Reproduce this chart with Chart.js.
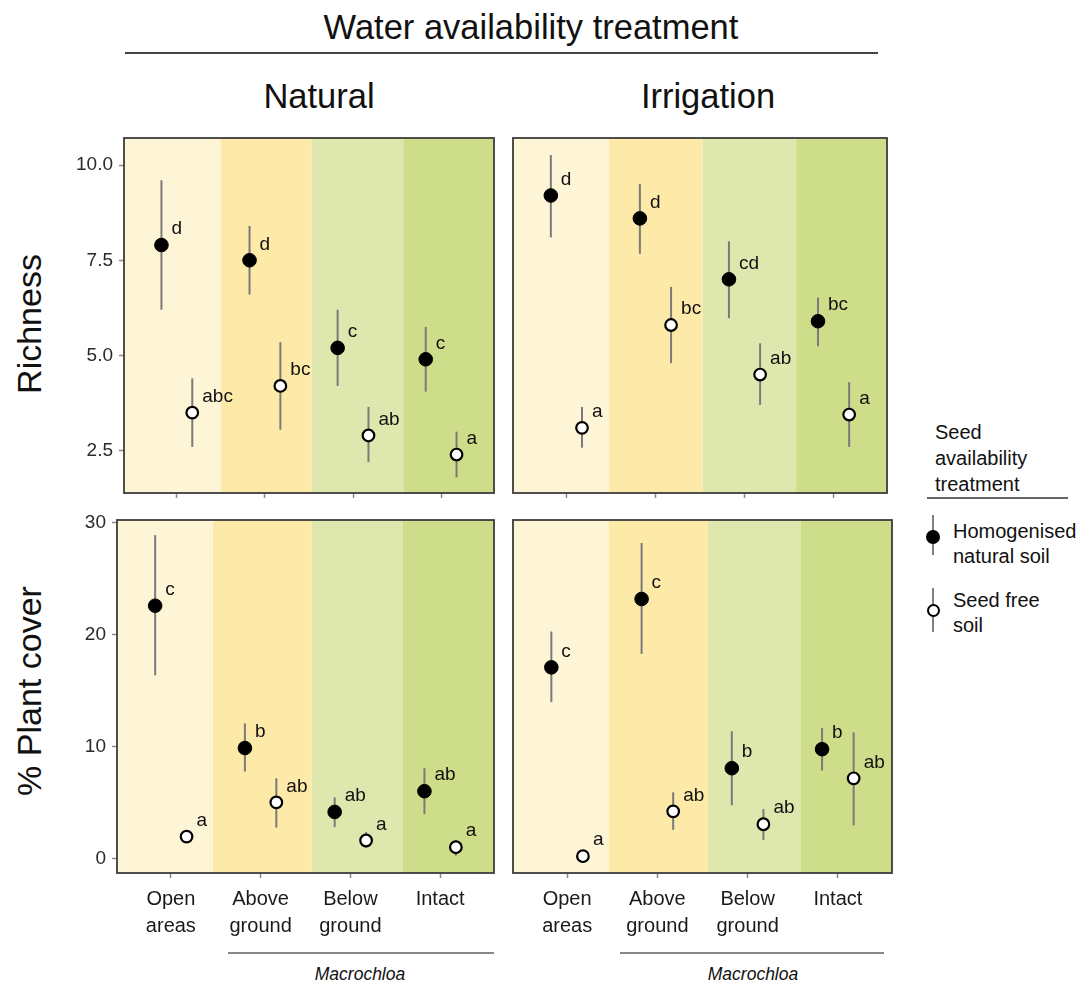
<!DOCTYPE html>
<html>
<head>
<meta charset="utf-8">
<script src="https://cdn.jsdelivr.net/npm/chart.js@4.4.0/dist/chart.umd.min.js"></script>
<style>
  body { margin:0; background:#fff; width:1091px; height:987px; position:relative; overflow:hidden;
         font-family:"Liberation Sans", Arial, sans-serif; color:#111; }
  .panel { position:absolute; }
  .t { position:absolute; white-space:nowrap; line-height:1; transform:translate(-50%,-50%); }
  .rule { position:absolute; }
  .dot { position:absolute; border-radius:50%; box-sizing:border-box; }
</style>
</head>
<body>

<!-- facet headers -->
<div class="t" style="left:531px;top:27px;font-size:34.5px;">Water availability treatment</div>
<div class="rule" style="left:125px;top:52px;width:753px;height:1.5px;background:#444;"></div>
<div class="t" style="left:319px;top:96px;font-size:34.5px;">Natural</div>
<div class="t" style="left:708px;top:96px;font-size:34.5px;">Irrigation</div>

<!-- y axis titles -->
<div class="t" style="left:29px;top:324px;font-size:34px;transform:translate(-50%,-50%) rotate(-90deg);">Richness</div>
<div class="t" style="left:29px;top:691px;font-size:34px;transform:translate(-50%,-50%) rotate(-90deg);">% Plant cover</div>

<!-- chart panels -->
<div class="panel" id="p-tl" style="left:60px;top:130px;width:442px;height:372px;"><canvas id="c-tl"></canvas></div>
<div class="panel" id="p-tr" style="left:505px;top:130px;width:390px;height:372px;"><canvas id="c-tr"></canvas></div>
<div class="panel" id="p-bl" style="left:50px;top:512px;width:452px;height:440px;"><canvas id="c-bl"></canvas></div>
<div class="panel" id="p-br" style="left:505px;top:512px;width:395px;height:440px;"><canvas id="c-br"></canvas></div>

<!-- Macrochloa bracket under the three tussock sites -->
<div class="rule" style="left:228px;top:952px;width:266px;height:2px;background:#888;"></div>
<div class="t" style="left:360px;top:975px;font-size:17.5px;font-style:italic;">Macrochloa</div>
<div class="rule" style="left:620px;top:952px;width:264px;height:2px;background:#888;"></div>
<div class="t" style="left:753px;top:975px;font-size:17.5px;font-style:italic;">Macrochloa</div>

<!-- legend -->
<div style="position:absolute;left:935px;top:419px;font-size:20px;line-height:26px;">Seed<br>availability<br>treatment</div>
<div class="rule" style="left:927px;top:497px;width:141px;height:1.5px;background:#666;"></div>
<div class="rule" style="left:932px;top:515px;width:2px;height:40px;background:#808080;"></div>
<div class="dot" style="left:926px;top:530px;width:14px;height:14px;background:#000;"></div>
<div style="position:absolute;left:953px;top:519px;font-size:20px;line-height:25px;">Homogenised<br>natural soil</div>
<div class="rule" style="left:932px;top:588px;width:2px;height:44px;background:#808080;"></div>
<div class="dot" style="left:927px;top:604px;width:13px;height:13px;background:#fff;border:2px solid #000;"></div>
<div style="position:absolute;left:953px;top:588px;font-size:20px;line-height:25px;">Seed free<br>soil</div>

<script>
// Sites along the x axis
const sites = [['Open', 'areas'], ['Above', 'ground'], ['Below', 'ground'], ['Intact']];

// Y tick values and their labels
const richTicks = [2.5, 5, 7.5, 10];
const richTickLabels = ['2.5', '5.0', '7.5', '10.0'];
const coverTicks = [0, 10, 20, 30];
const coverTickLabels = ['0', '10', '20', '30'];

// Richness, natural water
const richNatHom = [7.9, 7.5, 5.2, 4.9];
const richNatHomLo = [6.2, 6.6, 4.2, 4.05];
const richNatHomHi = [9.6, 8.4, 6.2, 5.75];
const richNatFree = [3.5, 4.2, 2.9, 2.4];
const richNatFreeLo = [2.6, 3.05, 2.2, 1.8];
const richNatFreeHi = [4.4, 5.35, 3.65, 3.0];
const richNatHomLet = ['d', 'd', 'c', 'c'];
const richNatFreeLet = ['abc', 'bc', 'ab', 'a'];

// Richness, irrigation
const richIrrHom = [9.2, 8.6, 7.0, 5.9];
const richIrrHomLo = [8.1, 7.67, 5.98, 5.24];
const richIrrHomHi = [10.26, 9.5, 8.0, 6.52];
const richIrrFree = [3.1, 5.8, 4.5, 3.45];
const richIrrFreeLo = [2.58, 4.8, 3.7, 2.6];
const richIrrFreeHi = [3.65, 6.8, 5.32, 4.3];
const richIrrHomLet = ['d', 'd', 'cd', 'bc'];
const richIrrFreeLet = ['a', 'bc', 'ab', 'a'];

// Plant cover (%), natural water
const covNatHom = [22.6, 9.9, 4.2, 6.05];
const covNatHomLo = [16.4, 7.8, 2.85, 4.0];
const covNatHomHi = [28.9, 12.1, 5.5, 8.1];
const covNatFree = [2.0, 5.05, 1.65, 1.05];
const covNatFreeLo = [1.5, 2.8, 1.0, 0.3];
const covNatFreeHi = [2.5, 7.2, 2.4, 1.7];
const covNatHomLet = ['c', 'b', 'ab', 'ab'];
const covNatFreeLet = ['a', 'ab', 'a', 'a'];

// Plant cover (%), irrigation
const covIrrHom = [17.1, 23.2, 8.1, 9.8];
const covIrrHomLo = [14.0, 18.3, 4.8, 7.9];
const covIrrHomHi = [20.3, 28.2, 11.4, 11.7];
const covIrrFree = [0.25, 4.25, 3.1, 7.2];
const covIrrFreeLo = [0.0, 2.6, 1.7, 3.0];
const covIrrFreeHi = [0.5, 5.95, 4.45, 11.3];
const covIrrHomLet = ['c', 'c', 'b', 'b'];
const covIrrFreeLet = ['a', 'ab', 'ab', 'ab'];

const FONT = '"Liberation Sans", Arial, sans-serif';
const BAND_COLORS = ['#FEF4D6', '#FDEAA8', '#DEE7AD', '#CEDD89'];
const DODGE = 0.175;

// Background bands, error bars, panel frame and significance letters
const panelPlugin = {
  id: 'panelDeco',
  beforeDatasetsDraw(chart) {
    const { ctx, chartArea: a, scales: { x, y } } = chart;
    const edges = [x.min, ...chart.options.plugins.panelDeco.edges, x.max];
    ctx.save();
    for (let i = 0; i < 4; i++) {
      const x0 = x.getPixelForValue(edges[i]);
      const x1 = x.getPixelForValue(edges[i + 1]);
      ctx.fillStyle = BAND_COLORS[i];
      ctx.fillRect(x0, a.top, x1 - x0, a.bottom - a.top);
    }
    ctx.strokeStyle = '#7a7a7a';
    ctx.lineWidth = 2;
    chart.data.datasets.forEach(ds => {
      ds.data.forEach((p, i) => {
        const px = x.getPixelForValue(p.x);
        ctx.beginPath();
        ctx.moveTo(px, y.getPixelForValue(ds.lo[i]));
        ctx.lineTo(px, y.getPixelForValue(ds.hi[i]));
        ctx.stroke();
      });
    });
    ctx.restore();
  },
  afterDatasetsDraw(chart) {
    const { ctx, chartArea: a, scales: { x, y } } = chart;
    ctx.save();
    ctx.strokeStyle = '#3c3c3c';
    ctx.lineWidth = 1.8;
    ctx.strokeRect(a.left, a.top, a.right - a.left, a.bottom - a.top);
    ctx.fillStyle = '#111';
    ctx.font = '19px ' + FONT;
    ctx.textAlign = 'left';
    ctx.textBaseline = 'middle';
    chart.data.datasets.forEach(ds => {
      ds.data.forEach((p, i) => {
        ctx.fillText(ds.letters[i], x.getPixelForValue(p.x) + 10, y.getPixelForValue(p.y) - 16);
      });
    });
    ctx.restore();
  }
};

function series(vals, offset) {
  return vals.map((v, i) => ({ x: i + 1 + offset, y: v }));
}

function makePanel(cfg) {
  const datasets = [
    {
      data: series(cfg.hom, -DODGE), lo: cfg.homLo, hi: cfg.homHi, letters: cfg.homLet,
      pointRadius: 6.8, pointBackgroundColor: '#000', pointBorderColor: '#000', pointBorderWidth: 1
    },
    {
      data: series(cfg.free, DODGE), lo: cfg.freeLo, hi: cfg.freeHi, letters: cfg.freeLet,
      pointRadius: 5.8, pointBackgroundColor: '#fff', pointBorderColor: '#000', pointBorderWidth: 2.2
    }
  ];
  new Chart(document.getElementById(cfg.id), {
    type: 'scatter',
    data: { datasets },
    plugins: [panelPlugin],
    options: {
      responsive: true,
      maintainAspectRatio: false,
      animation: false,
      events: [],
      layout: { padding: cfg.pad },
      plugins: {
        legend: { display: false },
        tooltip: { enabled: false },
        panelDeco: { edges: cfg.edges }
      },
      scales: {
        x: {
          type: 'linear', min: 0.4, max: 4.6,
          afterBuildTicks: s => { s.ticks = sites.map((_, i) => ({ value: i + 1 })); },
          afterFit: s => { s.height = cfg.xAxisH; s.paddingLeft = 0; s.paddingRight = 0; },
          border: { display: false },
          grid: { drawOnChartArea: false, drawTicks: true, tickLength: 5, tickColor: '#8a8a8a', tickWidth: 1.5 },
          ticks: {
            display: cfg.showX, autoSkip: false, maxRotation: 0, minRotation: 0, padding: 8,
            color: '#1a1a1a', font: { family: FONT, size: 20, lineHeight: 1.35 },
            callback: (v, i) => sites[i]
          }
        },
        y: {
          type: 'linear', min: cfg.yMin, max: cfg.yMax, display: cfg.showY,
          afterBuildTicks: s => { s.ticks = cfg.yTicks.map(v => ({ value: v })); },
          afterFit: s => { s.width = cfg.yAxisW; s.paddingTop = 0; s.paddingBottom = 0; },
          border: { display: false },
          grid: { drawOnChartArea: false, drawTicks: true, tickLength: 5, tickColor: '#8a8a8a', tickWidth: 1.5 },
          ticks: {
            padding: 6, color: '#2a2a2a', font: { family: FONT, size: 19 },
            callback: (v, i) => cfg.yTickLabels[i]
          }
        }
      }
    }
  });
}

const RICH_MIN = 1.39, RICH_MAX = 10.71;
const COV_MIN = -1.25, COV_MAX = 30.25;

makePanel({
  id: 'c-tl', pad: { left: 0, top: 7, right: 2, bottom: 0 }, yAxisW: 64, xAxisH: 9,
  showX: false, showY: true, yMin: RICH_MIN, yMax: RICH_MAX, yTicks: richTicks, yTickLabels: richTickLabels,
  edges: [1.5, 2.53, 3.57],
  hom: richNatHom, homLo: richNatHomLo, homHi: richNatHomHi, homLet: richNatHomLet,
  free: richNatFree, freeLo: richNatFreeLo, freeHi: richNatFreeHi, freeLet: richNatFreeLet
});
makePanel({
  id: 'c-tr', pad: { left: 5, top: 7, right: 7, bottom: 0 }, yAxisW: 0, xAxisH: 9,
  showX: false, showY: false, yMin: RICH_MIN, yMax: RICH_MAX, yTicks: richTicks, yTickLabels: richTickLabels,
  edges: [1.48, 2.53, 3.58],
  hom: richIrrHom, homLo: richIrrHomLo, homHi: richIrrHomHi, homLet: richIrrHomLet,
  free: richIrrFree, freeLo: richIrrFreeLo, freeHi: richIrrFreeHi, freeLet: richIrrFreeLet
});
makePanel({
  id: 'c-bl', pad: { left: 0, top: 7, right: 2, bottom: 0 }, yAxisW: 67, xAxisH: 79,
  showX: true, showY: true, yMin: COV_MIN, yMax: COV_MAX, yTicks: coverTicks, yTickLabels: coverTickLabels,
  edges: [1.47, 2.57, 3.58],
  hom: covNatHom, homLo: covNatHomLo, homHi: covNatHomHi, homLet: covNatHomLet,
  free: covNatFree, freeLo: covNatFreeLo, freeHi: covNatFreeHi, freeLet: covNatFreeLet
});
makePanel({
  id: 'c-br', pad: { left: 5, top: 7, right: 6, bottom: 0 }, yAxisW: 0, xAxisH: 79,
  showX: true, showY: false, yMin: COV_MIN, yMax: COV_MAX, yTicks: coverTicks, yTickLabels: coverTickLabels,
  edges: [1.46, 2.56, 3.59],
  hom: covIrrHom, homLo: covIrrHomLo, homHi: covIrrHomHi, homLet: covIrrHomLet,
  free: covIrrFree, freeLo: covIrrFreeLo, freeHi: covIrrFreeHi, freeLet: covIrrFreeLet
});
</script>
</body>
</html>
